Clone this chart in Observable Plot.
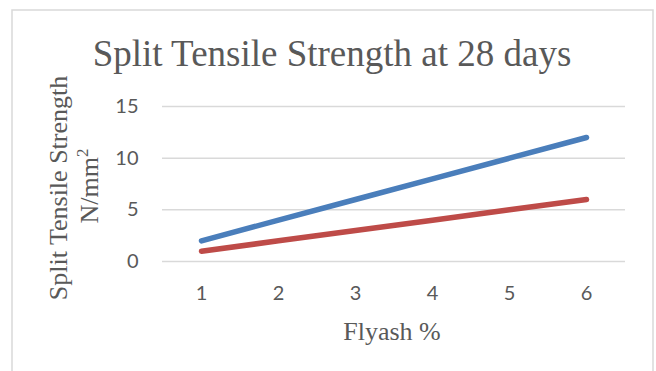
<!DOCTYPE html>
<html>
<head>
<meta charset="utf-8">
<script src="https://cdn.jsdelivr.net/npm/d3@7"></script>
<script src="https://cdn.jsdelivr.net/npm/@observablehq/plot@0.6"></script>
<style>
  html, body { margin: 0; padding: 0; background: #ffffff; }
  #wrap { position: relative; width: 656px; height: 371px; overflow: hidden; background: #fff; }
  #wrap svg { position: absolute; left: 0; top: 0; }
</style>
</head>
<body>
<div id="wrap"></div>
<script>
// ---- data ----
const flyash = [1, 2, 3, 4, 5, 6];
const seriesNames = ["Series1", "Series2"];
const series1 = [2, 4, 6, 8, 10, 12];
const series2 = [1, 2, 3, 4, 5, 6];
const yTicks = [0, 5, 10, 15];
const titleText = "Split Tensile Strength at 28 days";
const xTitle = "Flyash %";
const yTitle1 = "Split Tensile Strength";
const yTitle2 = "N/mm";

const colors = ["#4a7ebb", "#be4b48"];
const textColor = "#595959";

const data = [
  ...flyash.map((x, i) => ({x, y: series1[i], series: seriesNames[0]})),
  ...flyash.map((x, i) => ({x, y: series2[i], series: seriesNames[1]}))
];

const W = 656, H = 371;
const chart = Plot.plot({
  width: W,
  height: H,
  marginLeft: 162,
  marginRight: 31,
  marginTop: 106,
  marginBottom: 110,
  style: {fontFamily: "Lato, 'Liberation Sans', Arial, sans-serif", fontSize: "20px", color: textColor, background: "transparent", overflow: "visible"},
  x: {type: "point", domain: flyash, padding: 0.5, label: null},
  y: {domain: [0, 15], label: null},
  color: {domain: seriesNames, range: colors},
  marks: [
    Plot.ruleY(yTicks, {stroke: "#d9d9d9", strokeWidth: 1.5, strokeOpacity: 1}),
    Plot.axisY({ticks: yTicks, tickSize: 0, tickPadding: 24, label: null, fontSize: 20, fill: textColor}),
    Plot.axisX({tickSize: 0, tickPadding: 24, label: null, fontSize: 20, fill: textColor}),
    Plot.line(data, {x: "x", y: "y", z: "series", stroke: "series", strokeWidth: 5.5, strokeLinecap: "round", strokeLinejoin: "round"})
  ]
});

const wrap = document.getElementById("wrap");
wrap.appendChild(chart);

// overlay for frame and titles
const ns = "http://www.w3.org/2000/svg";
const ov = document.createElementNS(ns, "svg");
ov.setAttribute("width", W);
ov.setAttribute("height", H);
ov.style.pointerEvents = "none";
ov.innerHTML = `
  <path d="M12,${H + 5} V10 H653 V${H + 5}" fill="none" stroke="#d9d9d9" stroke-width="1.5"/>
  <text x="332" y="66" text-anchor="middle" font-family="Liberation Serif, 'Times New Roman', serif" font-size="37" fill="${textColor}">${titleText}</text>
  <text x="392" y="340" text-anchor="middle" font-family="Liberation Serif, 'Times New Roman', serif" font-size="26" fill="${textColor}">${xTitle}</text>
  <g font-family="Liberation Serif, 'Times New Roman', serif" font-size="26" fill="${textColor}" text-anchor="middle">
    <text transform="translate(67,188) rotate(-90)">${yTitle1}</text>
    <text transform="translate(98,186) rotate(-90)">${yTitle2}<tspan font-size="17" dy="-10">2</tspan></text>
  </g>
`;
wrap.appendChild(ov);
</script>
</body>
</html>
